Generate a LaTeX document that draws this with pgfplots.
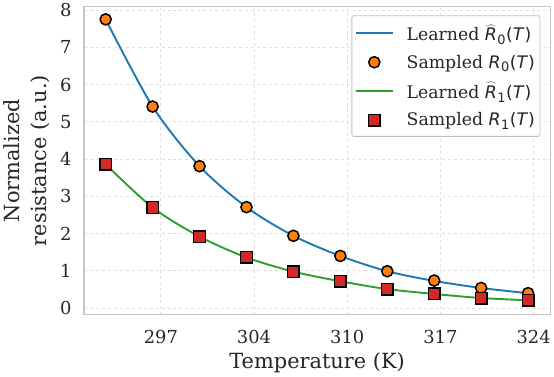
\documentclass[border=0pt]{standalone}
\usepackage{pgfplots}
\pgfplotsset{compat=1.18}
\usepackage{fontspec}
\setmainfont{DejaVu Serif}
\newfontfamily\dvs{DejaVu Sans}

\definecolor{tabblue}{HTML}{1F77B4}
\definecolor{taborange}{HTML}{FF7F0E}
\definecolor{tabgreen}{HTML}{2CA02C}
\definecolor{tabred}{HTML}{D62728}
\definecolor{txt}{HTML}{262626}

% legend symbols in sans math style
\newcommand{\sub}[1]{\raisebox{-0.22em}{\fontsize{13}{13}\selectfont\dvs #1}}
\newcommand{\Rhat}[1]{\ensuremath{\widehat{\hbox{\dvs\itshape R}}}\kern0.5pt\sub{#1}{\dvs\kern0.5pt(\itshape T\kern1pt\upshape)}}
\newcommand{\Rs}[1]{{\dvs\itshape R}\kern0.5pt\sub{#1}{\dvs\kern0.5pt(\itshape T\kern1pt\upshape)}}
\newcommand{\gap}{\rule{11bp}{0pt}}

\begin{document}
\begin{tikzpicture}
\begin{axis}[
    scale only axis,
    width=467bp, height=309bp,
    xmin=291.43, xmax=325.2,
    ymin=-0.18, ymax=8.1,
    xtick={297,303.75,310.5,317.25,324},
    xticklabels={297,304,310,317,324},
    ytick={0,1,2,3,4,5,6,7,8},
    /pgf/number format/assume math mode=true,
    major tick length=0pt,
    grid=major,
    major grid style={dashed, black!12, line width=0.8bp},
    axis line style={black!22, line width=1.3bp},
    tick label style={font=\fontsize{18}{18}\selectfont, text=txt},
    xticklabel style={yshift=-12bp},
    yticklabel style={xshift=-9bp},
    xlabel={Temperature (K)},
    xlabel style={yshift=-2bp},
    ylabel={Normalized\\resistance (a.u.)},
    label style={font=\fontsize{21}{27}\selectfont, text=txt},
    ylabel style={align=center, yshift=4bp},
    legend cell align=left,
    legend image code/.code={
        \draw[mark repeat=2, mark phase=2, #1]
            plot coordinates {(0bp,0bp) (18.5bp,0bp) (37bp,0bp)};
    },
    legend style={
        at={(0.979,0.971)}, anchor=north east,
        draw=black!25, line width=0.8bp, rounded corners=2bp,
        fill=white, text=txt,
        font=\fontsize{17.4}{17.4}\selectfont,
        row sep=9bp, inner xsep=3bp, inner ysep=7bp,
    },
]

% Learned R0
\addplot[color=tabblue, line width=1.9bp, smooth, no markers] coordinates {
    (293.0, 7.75) (296.4, 5.41) (299.8, 3.81) (303.2, 2.71) (306.6, 1.94)
    (310.0, 1.40) (313.4, 0.99) (316.8, 0.73) (320.2, 0.54) (323.6, 0.40)
};
\addlegendentry{\gap Learned \Rhat{0}}

% Sampled R0
\addplot[only marks, mark=*, mark size=5.6bp,
    mark options={fill=taborange, draw=black, line width=1.5bp}] coordinates {
    (293.0, 7.75) (296.4, 5.41) (299.8, 3.81) (303.2, 2.71) (306.6, 1.94)
    (310.0, 1.40) (313.4, 0.99) (316.8, 0.74) (320.2, 0.54) (323.6, 0.40)
};
\addlegendentry{\gap Sampled \Rs{0}}

% Learned R1
\addplot[color=tabgreen, line width=1.9bp, smooth, no markers] coordinates {
    (293.0, 3.86) (296.4, 2.70) (299.8, 1.92) (303.2, 1.36) (306.6, 0.98)
    (310.0, 0.72) (313.4, 0.51) (316.8, 0.38) (320.2, 0.27) (323.6, 0.21)
};
\addlegendentry{\gap Learned \Rhat{1}}

% Sampled R1
\addplot[only marks, mark=square*, mark size=5.8bp,
    mark options={fill=tabred, draw=black, line width=1.5bp}] coordinates {
    (293.0, 3.86) (296.4, 2.70) (299.8, 1.92) (303.2, 1.36) (306.6, 0.98)
    (310.0, 0.72) (313.4, 0.51) (316.8, 0.38) (320.2, 0.27) (323.6, 0.21)
};
\addlegendentry{\gap Sampled \Rs{1}}

\end{axis}
\end{tikzpicture}
\end{document}
